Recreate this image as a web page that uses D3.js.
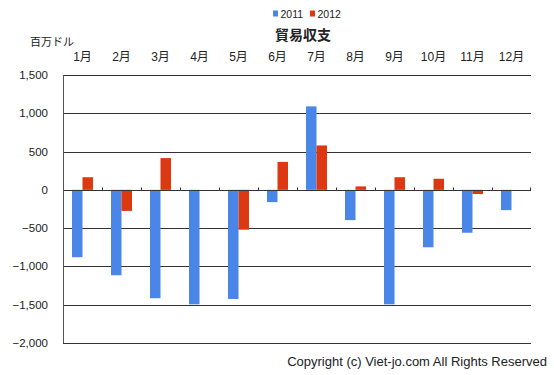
<!DOCTYPE html>
<html>
<head>
<meta charset="utf-8">
<script src="https://cdn.jsdelivr.net/npm/d3@7"></script>
<style>
  body { margin: 0; background: #fff; }
  text { font-family: Arial, "Liberation Sans", "Noto Sans CJK JP", sans-serif; fill: #222; }
</style>
</head>
<body>
<div id="chart"></div>
<script>
// Data (millions of USD)
const months = ['1月', '2月', '3月', '4月', '5月', '6月', '7月', '8月', '9月', '10月', '11月', '12月'];
const seriesNames = ['2011', '2012'];
const values2011 = [-880, -1115, -1415, -1495, -1425, -160, 1090, -395, -1495, -750, -560, -265];
const values2012 = [165, -275, 415, null, -520, 365, 580, 45, 165, 145, -55, null];
const yTicks = [1500, 1000, 500, 0, -500, -1000, -1500, -2000];
const colors = ['#4a86e8', '#dc3912'];

const width = 554, height = 375;
const margin = {top: 75, right: 23, bottom: 32, left: 63};

const svg = d3.select('#chart').append('svg')
    .attr('width', width)
    .attr('height', height);

const x = d3.scaleBand()
    .domain(months)
    .range([margin.left, width - margin.right]);

const xSub = d3.scaleBand()
    .domain(seriesNames)
    .range([0, 21])
    .padding(0);

const y = d3.scaleLinear()
    .domain([-2000, 1500])
    .range([height - margin.bottom, margin.top]);

// gridlines
svg.append('g')
    .selectAll('line')
    .data(yTicks)
    .join('line')
    .attr('x1', margin.left)
    .attr('x2', width - margin.right)
    .attr('y1', d => Math.round(y(d)) + 0.5)
    .attr('y2', d => Math.round(y(d)) + 0.5)
    .attr('stroke', '#333')
    .attr('stroke-width', 1);

// y labels
svg.append('g')
    .selectAll('text')
    .data(yTicks)
    .join('text')
    .attr('x', 48)
    .attr('y', d => y(d) + 4)
    .attr('text-anchor', 'end')
    .attr('font-size', 11.5)
    .text(d => d3.format(',')(d));

// bars
const rows = months.map((m, i) => ({month: m, vals: [values2011[i], values2012[i]]}));
const groups = svg.append('g')
    .selectAll('g')
    .data(rows)
    .join('g')
    .attr('transform', d => `translate(${x(d.month) + x.bandwidth() / 2 - 10.5},0)`);

groups.selectAll('rect')
    .data(d => d.vals.map((v, j) => ({key: seriesNames[j], v, j})).filter(e => e.v !== null))
    .join('rect')
    .attr('x', d => xSub(d.key))
    .attr('width', xSub.bandwidth())
    .attr('y', d => y(Math.max(0, d.v)))
    .attr('height', d => Math.abs(y(d.v) - y(0)))
    .attr('fill', d => colors[d.j]);

// zero line with ticks at band edges
const zeroY = Math.round(y(0)) + 0.5;
svg.append('line')
    .attr('x1', margin.left).attr('x2', width - margin.right)
    .attr('y1', zeroY).attr('y2', zeroY)
    .attr('stroke', '#333');
svg.append('g')
    .selectAll('line')
    .data(months.slice(1).concat(['end']))
    .join('line')
    .attr('x1', d => d === 'end' ? width - margin.right - 0.5 : Math.round(x(d)) + 0.5)
    .attr('x2', d => d === 'end' ? width - margin.right - 0.5 : Math.round(x(d)) + 0.5)
    .attr('y1', zeroY - 3)
    .attr('y2', zeroY)
    .attr('stroke', '#333');

// left axis line
svg.append('line')
    .attr('x1', margin.left + 0.5).attr('x2', margin.left + 0.5)
    .attr('y1', y(1500)).attr('y2', y(-2000))
    .attr('stroke', '#555')
    .attr('stroke-width', 1);

// month labels on top
svg.append('g')
    .selectAll('text')
    .data(months)
    .join('text')
    .attr('x', d => x(d) + x.bandwidth() / 2)
    .attr('y', 61)
    .attr('text-anchor', 'middle')
    .attr('font-size', 12)
    .text(d => d);

// unit label
svg.append('text')
    .attr('x', 30)
    .attr('y', 46)
    .attr('font-size', 11)
    .text('百万ドル');

// title
svg.append('text')
    .attr('x', 303)
    .attr('y', 40)
    .attr('text-anchor', 'middle')
    .attr('font-size', 14)
    .attr('font-weight', 'bold')
    .text('貿易収支');

// legend
const legend = svg.append('g').attr('transform', 'translate(273,9)');
seriesNames.forEach((s, i) => {
  const lg = legend.append('g').attr('transform', `translate(${i * 37},0)`);
  lg.append('rect').attr('width', 5).attr('height', 6).attr('y', 1.5).attr('fill', colors[i]);
  lg.append('text').attr('x', 7.5).attr('y', 8.5).attr('font-size', 10.5).text(s);
});

// copyright
svg.append('text')
    .attr('x', 547)
    .attr('y', 366)
    .attr('text-anchor', 'end')
    .attr('font-size', 13)
    .text('Copyright (c) Viet-jo.com All Rights Reserved');
</script>
</body>
</html>
